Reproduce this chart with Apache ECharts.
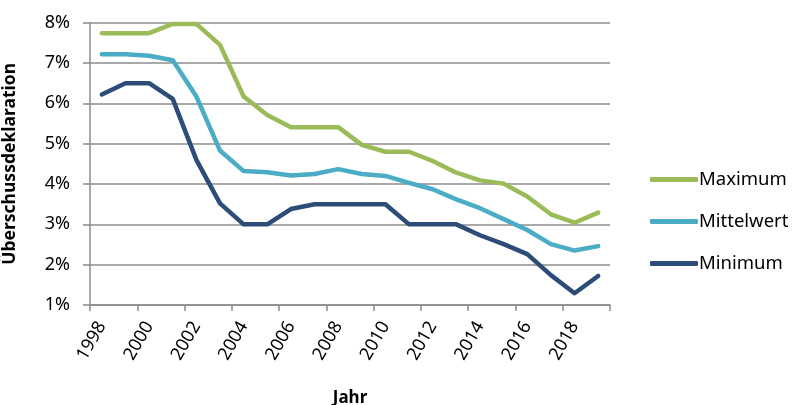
<!DOCTYPE html>
<html>
<head>
<meta charset="utf-8">
<script src="https://cdn.jsdelivr.net/npm/echarts@6/dist/echarts.min.js"></script>
<style>html,body{margin:0;padding:0;background:#fff}#c{width:799px;height:405px}</style>
</head>
<body>
<div id="c"></div>
<script>
var years = ['1998','1999','2000','2001','2002','2003','2004','2005','2006','2007','2008','2009','2010','2011','2012','2013','2014','2015','2016','2017','2018','2019'];
var maximum = [7.74,7.74,7.74,7.97,7.97,7.45,6.17,5.71,5.41,5.41,5.41,4.97,4.80,4.80,4.57,4.28,4.09,4.01,3.69,3.25,3.04,3.29];
var mittelwert = [7.22,7.22,7.18,7.07,6.17,4.83,4.32,4.29,4.21,4.25,4.37,4.25,4.20,4.03,3.87,3.62,3.40,3.13,2.86,2.51,2.35,2.46];
var minimum = [6.22,6.50,6.50,6.11,4.60,3.52,3.00,3.00,3.38,3.50,3.50,3.50,3.50,3.00,3.00,3.00,2.73,2.51,2.26,1.74,1.29,1.72];
var yTicks = [1,2,3,4,5,6,7,8];

var font = 'Noto Sans';
var chart = echarts.init(document.getElementById('c'));
function line(name, data, color) {
  return {
    name: name, type: 'line', data: data, symbol: 'none',
    lineStyle: {width: 4.5, color: color, cap: 'round', join: 'round'},
    itemStyle: {color: color}
  };
}
chart.setOption({
  animation: false,
  textStyle: {fontFamily: font},
  grid: {left: 90, right: 189, top: 22.7, bottom: 100, containLabel: false, outerBoundsMode: 'none'},
  legend: {
    orient: 'vertical', left: 645, top: 162, itemGap: 17,
    itemWidth: 48, itemHeight: 5, icon: 'roundRect',
    textStyle: {fontSize: 18.5, color: '#000', fontFamily: font, padding: [0,0,0,-4], lineHeight: 25},
    data: ['Maximum', 'Mittelwert', 'Minimum']
  },
  xAxis: {
    type: 'category', data: years, boundaryGap: true,
    name: 'Jahr', nameLocation: 'middle', nameGap: 85,
    nameTextStyle: {fontSize: 17, fontWeight: 'bold', color: '#000'},
    axisLine: {lineStyle: {color: '#8c8c8c', width: 1.5}},
    axisTick: {show: true, interval: 1, length: 6, lineStyle: {color: '#8c8c8c', width: 1.5}},
    axisLabel: {interval: 1, rotate: 60, fontSize: 18, color: '#000', margin: 18},
    splitLine: {show: false}
  },
  yAxis: {
    type: 'value', min: 1, max: 8, interval: 1,
    name: 'Überschussdeklaration', nameLocation: 'middle', nameGap: 71,
    nameTextStyle: {fontSize: 17.5, fontWeight: 'bold', color: '#000'},
    axisLine: {show: true, lineStyle: {color: '#8c8c8c', width: 1.5}},
    axisTick: {show: true, length: 7, lineStyle: {color: '#8c8c8c', width: 1.5}},
    axisLabel: {fontSize: 18, color: '#000', margin: 20, formatter: function(v){return v + '%';}},
    splitLine: {show: true, lineStyle: {color: '#8c8c8c', width: 1.5}}
  },
  series: [
    line('Maximum', maximum, '#9BBB59'),
    line('Mittelwert', mittelwert, '#4BACC6'),
    line('Minimum', minimum, '#2C4D77')
  ]
});
</script>
</body>
</html>
